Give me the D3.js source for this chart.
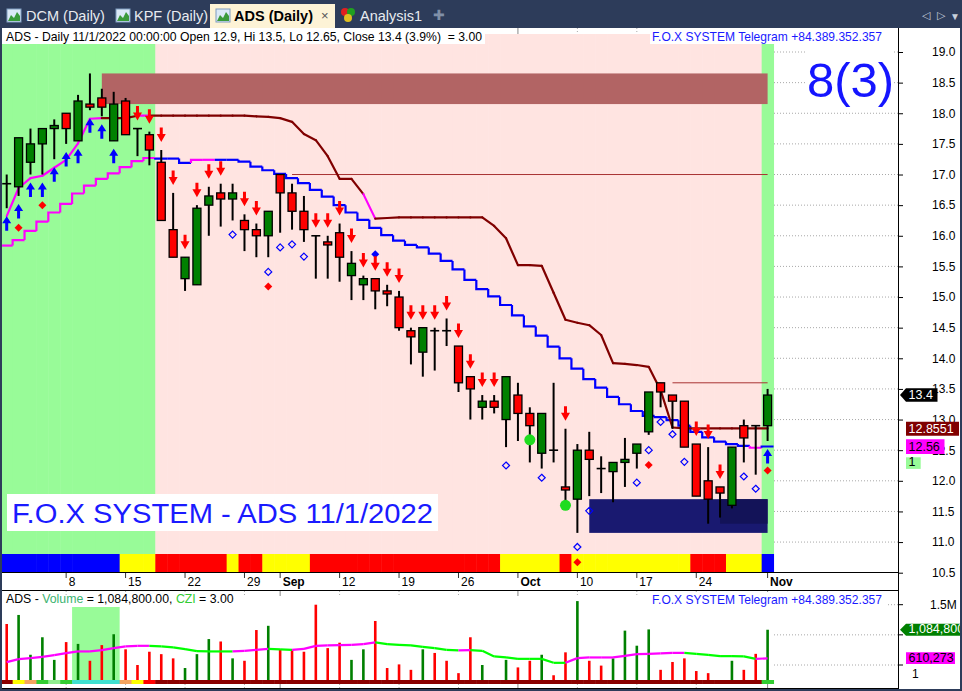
<!DOCTYPE html>
<html><head><meta charset="utf-8">
<script src="https://cdn.jsdelivr.net/npm/d3@7"></script>
<style>html,body{margin:0;padding:0;background:#fff;overflow:hidden}svg{display:block}text{font-family:"Liberation Sans",Arial,sans-serif;white-space:pre}</style>
</head><body><svg id="c" width="962" height="691"></svg>
<script>
// ---------------- DATA ----------------
const dates = ["2022-08-01","2022-08-02","2022-08-03","2022-08-04","2022-08-05","2022-08-08","2022-08-09","2022-08-10","2022-08-11","2022-08-12",
"2022-08-15","2022-08-16","2022-08-17","2022-08-18","2022-08-19","2022-08-22","2022-08-23","2022-08-24","2022-08-25","2022-08-26",
"2022-08-29","2022-08-30","2022-08-31","2022-09-05","2022-09-06","2022-09-07","2022-09-08","2022-09-09","2022-09-12","2022-09-13",
"2022-09-14","2022-09-15","2022-09-16","2022-09-19","2022-09-20","2022-09-21","2022-09-22","2022-09-23","2022-09-26","2022-09-27",
"2022-09-28","2022-09-29","2022-09-30","2022-10-03","2022-10-04","2022-10-05","2022-10-06","2022-10-07","2022-10-10","2022-10-11",
"2022-10-12","2022-10-13","2022-10-14","2022-10-17","2022-10-18","2022-10-19","2022-10-20","2022-10-21","2022-10-24","2022-10-25",
"2022-10-26","2022-10-27","2022-10-28","2022-10-31","2022-11-01"];
const open = [16.85,16.8,17.2,17.5,17.75,18.0,17.55,18.15,18.25,17.55, 18.2,17.75,17.65,17.2,16.1,15.3,15.2,16.5,16.7,16.6,
16.25,16.1,16.0,17.0,16.7,16.4,16.0,15.9,16.05,15.35, 15.2,15.3,15.1,15.0,14.45,14.1,14.45,14.45,14.2,13.7,
13.2,13.3,13.0,13.4,13.1,12.45,12.5,11.9,11.7,12.5, 12.2,12.15,12.3,12.45,12.8,13.6,13.4,13.3,12.6,12.0,
11.9,11.6,12.9,12.9,12.9];
const high = [17.0,17.6,17.75,17.75,17.9,18.0,18.3,18.65,18.4,18.35, 18.25,17.75,17.7,17.4,16.7,15.65,16.5,16.8,16.85,16.85,
16.35,16.2,16.4,17.0,16.85,16.65,16.0,16.0,16.2,15.75, 15.35,15.3,15.2,15.1,14.5,14.5,14.5,14.65,14.2,13.7,
13.4,13.4,13.7,13.6,13.2,13.1,13.6,12.85,12.6,12.8, 12.4,12.3,12.7,12.6,13.45,13.6,13.4,13.3,12.6,12.55,
11.9,12.55,13.0,12.9,13.5];
const low = [16.45,16.65,17.0,17.0,17.25,17.5,17.55,18.05,17.95,17.55, 17.65,17.3,17.15,16.25,15.65,15.1,15.2,16.0,16.15,16.25,
15.75,15.65,15.65,16.05,16.1,15.9,15.3,15.3,15.25,14.95, 14.95,14.8,14.85,14.45,13.9,13.7,13.8,14.2,13.45,13.0,
13.0,13.1,12.55,12.65,12.3,12.2,12.3,11.6,11.15,11.75, 11.8,11.65,11.9,12.2,12.75,13.2,12.85,12.55,11.75,11.3,
11.4,11.55,12.3,12.1,12.65];
const close = [16.85,17.6,17.5,17.75,17.8,17.75,18.2,18.1,18.1,18.15, 17.65,17.75,17.4,16.25,15.65,15.65,16.45,16.65,16.6,16.7,
16.1,16.0,16.4,16.7,16.4,16.1,16.0,15.85,15.65,15.55, 15.3,15.1,15.05,14.5,14.35,14.5,14.45,14.45,13.6,13.5,
13.3,13.2,13.7,13.1,12.9,13.1,12.5,11.85,12.5,12.35, 12.2,12.3,12.35,12.6,13.45,13.45,13.3,12.55,11.75,11.7,
11.8,12.55,12.7,12.9,13.4];
const volume = [1180000,1330000,670000,960000,585000,880000,850000,570000,830000,1010000, 760000,500000,720000,680000,610000,450000,680000,930000,890000,610000,
570000,1080000,1150000,760000,750000,720000,1500000,780000,870000,585000, 760000,1230000,450000,510000,420000,760000,700000,570000,365000,960000,
500000,250000,585000,460000,570000,670000,330000,710000,1560000,570000, 490000,610000,1070000,820000,1090000,420000,550000,610000,400000,365000,
250000,570000,420000,685000,1084800];
const czi = [547000,597000,614000,635000,663000,697000,725000,725000,746000,779000, 808000,818000,818000,808000,791000,763000,730000,725000,725000,725000,
735000,751000,768000,758000,751000,768000,818000,824000,829000,834000, 846000,874000,846000,834000,824000,801000,779000,751000,741000,746000,
735000,642000,625000,602000,602000,602000,536000,536000,614000,625000, 625000,625000,652000,680000,685000,692000,701000,701000,685000,668000,
647000,647000,642000,602000,610273];
const stopFast = [16.32,16.78,16.94,16.98,17.11,17.24,17.51,17.91,17.92,17.92, 17.92,17.96,17.96,17.96,17.96,17.96,17.96,17.96,17.96,17.96,
17.96,17.95,17.94,17.92,17.86,17.66,17.56,17.30,16.93,16.93, 16.68,16.28,16.29,16.30,16.30,16.30,16.30,16.30,16.30,16.30,
16.30,16.16,15.96,15.52,15.52,15.51,15.07,14.63,14.58,14.54, 14.38,13.92,13.91,13.89,13.86,13.48,12.87,12.8551,12.8551,12.8551,
12.8551,12.8551,12.8551,12.8551,12.8551];
const fastState = "uuuuuuuuudddudddddddddddddddddduddddddddddddddddddddddddddddddddd".split("");
const stopSlow = [15.84,15.93,16.08,16.23,16.38,16.52,16.69,16.82,16.93,17.02, 17.12,17.22,17.27,17.26,17.26,17.19,17.24,17.24,17.24,17.24,
17.21,17.13,17.07,17.01,16.94,16.86,16.75,16.64,16.50,16.38, 16.26,16.13,16.01,15.92,15.85,15.81,15.71,15.59,15.45,15.28,
15.13,15.01,14.87,14.70,14.52,14.37,14.19,14.00,13.83,13.66, 13.52,13.37,13.25,13.14,13.06,13.04,12.99,12.90,12.80,12.71,
12.64,12.60,12.57,12.54,12.56];
const slowState = "uuuuuuuuuuuuuddduudddddddddddddddddddddddddddddddddddddddddddddu".split("");
const bgState = "GGGGGGGGGGGGGPPPPPPPPPPPPPPPPPPPPPPPPPPPPPPPPPPPPPPPPPPPPPPPPPPPG".split("");
const signalBand = "BBBBBBBBBBYYYRRRRRRYRRYYYYRRRRRRRRRRRRRRRRYYYYYRYYYYYYYYYYRRRYYYB".split("");
const volBand = ["dr","y","o","g","lg","g","t","t","t","t","o","y","r"].concat(d3.range(51).map(()=>"dr")).concat(["g"]);
const volHighlight = [6, 9];
const upArrowIdx = [0,1,2,3,4,5,6,7,8,9,64];
const downArrowIdx = [11,12,13,14,15,16,17,18,20,21,26,27,28,29,30,31,32,33,34,35,36,37,38,39,40,41,47,58,59,60];
const hollowIdx = [19,22,23,24,25,42,45,48,49,53,54,55,56,57,62,63];
const hollowVal = [16.02,15.41,15.81,15.86,15.66,12.25,12.05,10.92,11.51,11.97,12.50,12.96,12.76,12.31,12.07,11.87];
const redDotIdx = [1,3,22,48,54,64];
const redDotVal = [16.13,16.50,15.17,10.67,12.26,12.17];
const blueDotIdx = [31];
const blueDotVal = [15.70];
const greenDotIdx = [44,47];
const greenDotVal = [12.67,11.60];
const zoneFrom = [8,49,60], zoneTo = [64,64,64], zoneLo = [18.15,11.15,11.30], zoneHi = [18.65,11.70,11.70];
const levelFrom = [24,56], levelTo = [64,64], levelVal = [17.0,13.6];
const priceTicks = [10.5,11,11.5,12,12.5,13,13.5,14,14.5,15,15.5,16,16.5,17,17.5,18,18.5,19];
const volTicks = [500000,1000000,1500000];
const tickDates = ["2022-08-08","2022-08-15","2022-08-22","2022-08-29","2022-09-05","2022-09-12","2022-09-19","2022-09-26","2022-10-03","2022-10-10","2022-10-17","2022-10-24","2022-11-01"];
const tickLabels = ["8","15","22","29","Sep","12","19","26","Oct","10","17","24","Nov"];
const monthTick = [false,false,false,false,true,false,false,false,true,false,false,false,true];
const tabs = ["DCM (Daily)","KPF (Daily)","ADS (Daily)","Analysis1"];

// ---------------- SCALES ----------------
const svg = d3.select("#c");
const x = d3.scalePoint().domain(dates).range([6.7, 767.6]);
const bw = x.step();
const y = d3.scaleLinear().domain([10.5, 19]).range([572.7, 52]);
const yv = d3.scaleLinear().domain([500000, 1500000]).range([665, 604.7]);
const X = i => x(dates[i]);
const C = {green:"#008000", red:"#ff0000", blue:"#0000ff", mag:"#ff00ff", maroon:"#800000", pink:"#ffe4e1", pale:"#98fb98"};

svg.append("rect").attr("width",962).attr("height",691).attr("fill","#fff");

// ---------------- TAB BAR ----------------
svg.append("rect").attr("width",962).attr("height",28).attr("fill","#2d3c5a");
svg.append("rect").attr("x",210).attr("y",4).attr("width",125).attr("height",24).attr("fill","#fdf3d6");
function chartIcon(x0){
  const g=svg.append("g");
  g.append("rect").attr("x",x0).attr("y",9).attr("width",14).attr("height",13).attr("fill","#dbe9f7").attr("stroke","#7f9cc0");
  g.append("path").attr("d",`M${x0+1},21 L${x0+4},15 L${x0+7},18 L${x0+10},12 L${x0+13},16 L${x0+13},21 Z`).attr("fill","#3a9a3a");
}
chartIcon(7); chartIcon(116); chartIcon(216);
svg.append("text").attr("x",26).attr("y",21).attr("font-size",14.5).attr("fill","#e8ebf0").text(tabs[0]);
svg.append("text").attr("x",134).attr("y",21).attr("font-size",14.5).attr("fill","#e8ebf0").text(tabs[1]);
svg.append("text").attr("x",234).attr("y",21).attr("font-size",14.5).attr("font-weight","bold").attr("fill","#000").text(tabs[2]);
svg.append("text").attr("x",321).attr("y",20).attr("font-size",13).attr("fill","#555").text("×");
[["#e02020",345,12],["#20a020",351,12],["#e0c020",348,18]].forEach(c=>svg.append("circle").attr("cx",c[1]).attr("cy",c[2]).attr("r",4).attr("fill",c[0]));
svg.append("text").attr("x",360).attr("y",21).attr("font-size",14.5).attr("fill","#e8ebf0").text(tabs[3]);
svg.append("text").attr("x",433).attr("y",20).attr("font-size",14).attr("fill","#8090a8").text("✚");
svg.append("text").attr("x",922).attr("y",19).attr("font-size",11).attr("fill","#c8d0dc").text("◁");
svg.append("text").attr("x",937).attr("y",19).attr("font-size",11).attr("fill","#c8d0dc").text("▷");
svg.append("text").attr("x",950).attr("y",20).attr("font-size",10).attr("fill","#c8d0dc").text("▼");

// ---------------- MAIN PANE ----------------
const main = svg.append("g");
dates.forEach((d,i)=>{
  const x0=Math.max(2,x(d)-bw/2);
  main.append("rect").attr("x",x0).attr("y",34).attr("width",x(d)+bw/2-x0+0.5).attr("height",520)
    .attr("fill", bgState[i]==="G"?C.pale:C.pink);
  main.append("rect").attr("x",x0).attr("y",554).attr("width",x(d)+bw/2-x0+0.5).attr("height",18)
    .attr("fill", signalBand[i]==="B"?C.blue:signalBand[i]==="Y"?"#ffff00":C.red);
});
priceTicks.forEach(v=>{ if(v>10.5) main.append("line").attr("x1",774).attr("x2",898).attr("y1",y(v)).attr("y2",y(v)).attr("stroke","#a8a8a8").attr("stroke-dasharray","1,2"); });
main.append("rect").attr("x",2).attr("y",28).attr("width",896).attr("height",6).attr("fill","#fff");
tickDates.forEach((d,k)=>{
  main.append("line").attr("x1",x(d)).attr("x2",x(d)).attr("y1",28).attr("y2",34).attr("stroke",monthTick[k]?"#888":"#aaa").attr("stroke-dasharray",monthTick[k]?null:"1,2");
});
zoneFrom.forEach((f,k)=>{
  main.append("rect").attr("x",X(f)).attr("y",y(zoneHi[k])).attr("width",X(zoneTo[k])-X(f)).attr("height",y(zoneLo[k])-y(zoneHi[k]))
    .attr("fill", k===0?"#b26464":k===1?"#191970":"#131358");
});
levelFrom.forEach((f,k)=>{
  main.append("line").attr("x1",X(f)).attr("x2",X(levelTo[k])).attr("y1",y(levelVal[k])).attr("y2",y(levelVal[k])).attr("stroke","#a83232").attr("stroke-width",1);
});
stopSlow.forEach((v,i)=>{
  const xl=X(i)-bw/2, xr=X(i)+bw/2;
  const p = i===0 ? `M${Math.max(2,xl)},${y(v)}H${xr}` : `M${xl},${y(stopSlow[i-1])}V${y(v)}H${xr}`;
  main.append("path").attr("d",p).attr("fill","none").attr("stroke",slowState[i]==="u"?C.mag:C.blue).attr("stroke-width",2.2);
});
stopFast.forEach((v,i)=>{
  if(i===0) return;
  main.append("line").attr("x1",X(i-1)).attr("y1",y(stopFast[i-1])).attr("x2",X(i)).attr("y2",y(v))
    .attr("stroke",fastState[i]==="u"?C.mag:C.maroon).attr("stroke-width",2.2).attr("stroke-linecap","round");
});
hollowIdx.forEach((i,k)=>{ const cx=X(i), cy=y(hollowVal[k]);
  main.append("path").attr("d",`M${cx},${cy-3.5}L${cx+3.5},${cy}L${cx},${cy+3.5}L${cx-3.5},${cy}Z`).attr("fill","none").attr("stroke",C.blue).attr("stroke-width",1.2);});
dates.forEach((d,i)=>{
  const cx=x(d);
  main.append("line").attr("x1",cx).attr("x2",cx).attr("y1",y(high[i])).attr("y2",y(low[i])).attr("stroke","#000").attr("stroke-width",2);
  if(open[i]===close[i]){
    main.append("line").attr("x1",cx-4.5).attr("x2",cx+4.5).attr("y1",y(open[i])).attr("y2",y(open[i])).attr("stroke","#000").attr("stroke-width",1.6);
  } else {
    const t=y(Math.max(open[i],close[i])), b=y(Math.min(open[i],close[i]));
    main.append("rect").attr("x",cx-4).attr("y",t).attr("width",8).attr("height",Math.max(1,b-t))
      .attr("fill",close[i]>open[i]?C.green:C.red).attr("stroke","#000").attr("stroke-width",1.3);
  }
});
redDotIdx.forEach((i,k)=>{ const cx=X(i), cy=y(redDotVal[k]);
  main.append("path").attr("d",`M${cx},${cy-4}L${cx+4},${cy}L${cx},${cy+4}L${cx-4},${cy}Z`).attr("fill",C.red);});
blueDotIdx.forEach((i,k)=>{ const cx=X(i), cy=y(blueDotVal[k]);
  main.append("path").attr("d",`M${cx},${cy-4}L${cx+4},${cy}L${cx},${cy+4}L${cx-4},${cy}Z`).attr("fill",C.blue);});
greenDotIdx.forEach((i,k)=>{ main.append("circle").attr("cx",X(i)).attr("cy",y(greenDotVal[k])).attr("r",5.5).attr("fill","#1fdc1f");});
upArrowIdx.forEach(i=>{ const cx=X(i), t=y(low[i])+8;
  main.append("path").attr("d",`M${cx},${t}L${cx+4.5},${t+7}L${cx+1.5},${t+7}L${cx+1.5},${t+14.5}L${cx-1.5},${t+14.5}L${cx-1.5},${t+7}L${cx-4.5},${t+7}Z`).attr("fill",C.blue);});
downArrowIdx.forEach(i=>{ const cx=X(i), t=y(high[i])-8;
  main.append("path").attr("d",`M${cx},${t}L${cx-4.5},${t-8}L${cx-1.5},${t-8}L${cx-1.5},${t-14.5}L${cx+1.5},${t-14.5}L${cx+1.5},${t-8}L${cx+4.5},${t-8}Z`).attr("fill",C.red);});

main.append("rect").attr("x",2).attr("y",28).attr("width",483).attr("height",16).attr("fill","#fff");
main.append("text").attr("x",6).attr("y",40.5).attr("font-size",12.2).attr("fill","#000").attr("textLength",476).attr("lengthAdjust","spacingAndGlyphs")
  .text("ADS - Daily 11/1/2022 00:00:00 Open 12.9, Hi 13.5, Lo 12.65, Close 13.4 (3.9%)  = 3.00");
main.append("rect").attr("x",650).attr("y",28).attr("width",236).attr("height",16).attr("fill","#fff");
main.append("text").attr("x",652).attr("y",40.5).attr("font-size",12.2).attr("fill","#1a1aff").attr("textLength",230).attr("lengthAdjust","spacingAndGlyphs")
  .text("F.O.X SYSTEM Telegram +84.389.352.357");
main.append("rect").attr("x",805).attr("y",50).attr("width",88).attr("height",52).attr("fill","#fff");
main.append("text").attr("x",807).attr("y",97).attr("font-size",49).attr("fill","#1515ff").text("8(3)");
main.append("rect").attr("x",7).attr("y",494).attr("width",431).attr("height",37).attr("fill","#fff");
main.append("text").attr("x",12).attr("y",523).attr("font-size",27).attr("fill","#1a1aff").attr("textLength",421).attr("lengthAdjust","spacingAndGlyphs").text("F.O.X SYSTEM - ADS 11/1/2022");

main.append("line").attr("x1",2).attr("x2",898).attr("y1",572.5).attr("y2",572.5).attr("stroke","#000");
tickDates.forEach((d,k)=>{
  main.append("line").attr("x1",x(d)).attr("x2",x(d)).attr("y1",573).attr("y2",578).attr("stroke","#333");
  main.append("text").attr("x",x(d)+2.5).attr("y",585.5).attr("font-size",12).attr("font-weight",monthTick[k]?"bold":"normal").attr("fill","#000").text(tickLabels[k]);
});

const ax = svg.append("g").attr("transform","translate(898,0)")
  .call(d3.axisRight(y).tickValues(priceTicks).tickFormat(d3.format(".1f")).tickSize(5).tickPadding(29));
ax.select(".domain").remove();
ax.selectAll("text").attr("font-size",12).attr("font-family","Liberation Sans, Arial").attr("fill","#000");
svg.append("line").attr("x1",898.5).attr("x2",898.5).attr("y1",28).attr("y2",691).attr("stroke","#000");

function tag(xl,yt,w,h,fill,txt,tcol,arrow){
  const p = arrow ? `M${xl-6},${yt+h/2}L${xl},${yt}H${xl+w}V${yt+h}H${xl}Z` : `M${xl},${yt}H${xl+w}V${yt+h}H${xl}Z`;
  svg.append("path").attr("d",p).attr("fill",fill);
  svg.append("text").attr("x",xl+2.5).attr("y",yt+h-2.5).attr("font-size",12.5).attr("fill",tcol).text(txt);
}
tag(906,y(close[64])-6.7,31.5,13.4,"#000",d3.format(".1f")(close[64]),"#fff",true);
tag(906,y(stopFast[64])-6.7,53,14,C.maroon,"12.8551","#fff",false);
tag(906,y(stopSlow[64])-7.3,38.5,14.7,C.mag,d3.format(".2f")(stopSlow[64]),"#000",false);
tag(906,457.3,14.7,11.6,C.pale,"1","#000",false);

// ---------------- VOLUME PANE ----------------
const vp = svg.append("g");
vp.append("line").attr("x1",2).attr("x2",898).attr("y1",590.5).attr("y2",590.5).attr("stroke","#000");
vp.append("line").attr("x1",2).attr("x2",898).attr("y1",688.5).attr("y2",688.5).attr("stroke","#000");
volTicks.forEach(v=>vp.append("line").attr("x1",774).attr("x2",898).attr("y1",yv(v)).attr("y2",yv(v)).attr("stroke","#a8a8a8").attr("stroke-dasharray","1,2"));
vp.append("rect").attr("x",X(volHighlight[0])-bw/2).attr("y",607).attr("width",X(volHighlight[1])-X(volHighlight[0])+bw).attr("height",77).attr("fill",C.pale);
tickDates.forEach((d,k)=>{
  [[591,596],[684,688]].forEach(r=>vp.append("line").attr("x1",x(d)).attr("x2",x(d)).attr("y1",r[0]).attr("y2",r[1]).attr("stroke",monthTick[k]?"#888":"#aaa").attr("stroke-dasharray",monthTick[k]?null:"1,2"));
});
dates.forEach((d,i)=>{
  vp.append("rect").attr("x",x(d)-1.3).attr("y",yv(volume[i])).attr("width",2.6).attr("height",684-yv(volume[i]))
    .attr("fill",close[i]>open[i]?C.green:C.red);
});
const vbCol = {dr:"#8b0000",y:"#ffff00",o:"#f4a460",g:"#32cd32",lg:"#90ee90",t:"#40e0d0",r:"#ff0000"};
dates.forEach((d,i)=>{
  const x0=Math.max(2,x(d)-bw/2);
  vp.append("rect").attr("x",x0).attr("y",680).attr("width",x(d)+bw/2-x0+0.5).attr("height",4).attr("fill",vbCol[volBand[i]]);
});
let cState="u";
czi.forEach((v,i)=>{
  if(i===0) return;
  if(v>czi[i-1]) cState="u"; else if(v<czi[i-1]) cState="d";
  vp.append("line").attr("x1",X(i-1)).attr("y1",yv(czi[i-1])).attr("x2",X(i)).attr("y2",yv(v))
    .attr("stroke",cState==="u"?C.mag:"#00ff00").attr("stroke-width",2.2);
});
const vt = vp.append("text").attr("x",6).attr("y",603).attr("font-size",12.3).attr("fill","#000");
vt.append("tspan").text("ADS - ");
vt.append("tspan").attr("fill","#3cb371").text("Volume");
vt.append("tspan").text(" = 1,084,800.00, ");
vt.append("tspan").attr("fill","#32cd32").text("CZI");
vt.append("tspan").text(" = 3.00");
vp.append("rect").attr("x",650).attr("y",592).attr("width",236).attr("height",14).attr("fill","#fff");
vp.append("text").attr("x",652).attr("y",603.5).attr("font-size",12.2).attr("fill","#1a1aff").attr("textLength",230).attr("lengthAdjust","spacingAndGlyphs").text("F.O.X SYSTEM Telegram +84.389.352.357");
volTicks.forEach(v=>vp.append("line").attr("x1",898).attr("x2",903).attr("y1",yv(v)).attr("y2",yv(v)).attr("stroke","#000"));
vp.append("text").attr("x",930).attr("y",yv(1500000)+4.5).attr("font-size",12).attr("fill","#000").text("1.5M");
tag(906,yv(volume[64])-6,56,12,C.green,d3.format(",")(volume[64]),"#fff",true);
tag(906,yv(czi[64])-6,49,11.7,C.mag,d3.format(",")(Math.round(czi[64])),"#000",false);
vp.append("text").attr("x",912).attr("y",677.5).attr("font-size",12).attr("fill","#000").text("1");

svg.append("rect").attr("x",0).attr("y",28).attr("width",2).attr("height",663).attr("fill","#2d3c5a");
svg.append("rect").attr("x",960).attr("y",28).attr("width",2).attr("height",663).attr("fill","#2d3c5a");
svg.append("rect").attr("x",0).attr("y",689).attr("width",962).attr("height",2).attr("fill","#2d3c5a");
</script></body></html>
